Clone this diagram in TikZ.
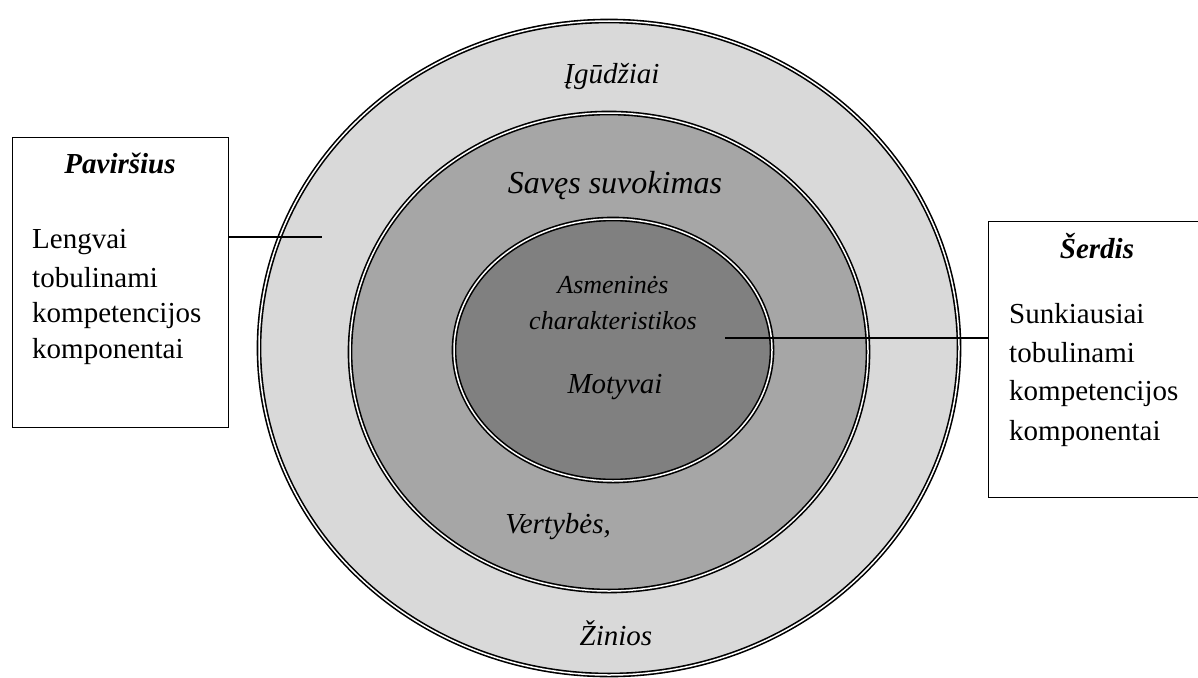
\documentclass[tikz,border=0pt]{standalone}
\usepackage{fontspec}
\setmainfont{Liberation Serif}
\tikzset{
  ring/.style={draw=black, line width=1.6pt, double=white, double distance=1.5pt},
  boxframe/.style={draw=black, line width=1.3pt, inner sep=0pt},
  lbl/.style={anchor=base, inner sep=0pt, font=\fontsize{29}{35}\selectfont\itshape},
  smalllbl/.style={anchor=base, inner sep=0pt, font=\fontsize{26}{31}\selectfont\itshape},
  biglbl/.style={anchor=base, inner sep=0pt, font=\fontsize{32}{38}\selectfont\itshape},
  head/.style={anchor=base, inner sep=0pt, font=\fontsize{29}{35}\selectfont\bfseries\itshape},
  body/.style={anchor=base west, inner sep=0pt, font=\fontsize{29}{35}\selectfont},
  conn/.style={draw=black, line width=1.2pt}
}
\definecolor{outerg}{HTML}{D9D9D9}
\definecolor{midg}{HTML}{A6A6A6}
\definecolor{innerg}{HTML}{808080}
\begin{document}
\begin{tikzpicture}[x=1pt,y=-1pt]
\useasboundingbox (0,0) rectangle (1198,677);
\clip (0,0) rectangle (1198,677);
% rings
\draw[ring, fill=outerg] (609,348) ellipse [x radius=350, y radius=327];
\draw[ring, fill=midg] (609,352) ellipse [x radius=259, y radius=239];
\draw[ring, fill=innerg] (613,350) ellipse [x radius=159, y radius=131];
% ring labels
\node[lbl] (igud) at (612,83) {Įgūdžiai};
\node[biglbl] (saves) at (615,193) {Savęs suvokimas};
\node[smalllbl] (asm) at (613,293) {Asmeninės};
\node[smalllbl] (char) at (613,329) {charakteristikos};
\node[lbl] (motyv) at (615,393) {Motyvai};
\node[lbl] (vert) at (558,533) {Vertybės,};
\node[lbl] (zin) at (616,645) {Žinios};
% left box
\node[boxframe, minimum width=216pt, minimum height=290pt, anchor=north west] (lbox) at (12,137) {};
\node[head] (lhead) at (120,173) {Paviršius};
\node[body] (l1) at (32,248) {Lengvai};
\node[body] (l2) at (32,287) {tobulinami};
\node[body] (l3) at (32,322) {kompetencijos};
\node[body] (l4) at (32,358) {komponentai};
% right box
\node[boxframe, minimum width=230pt, minimum height=276pt, anchor=north west] (rbox) at (988,221) {};
\node[head] (rhead) at (1097,258) {Šerdis};
\node[body] (r1) at (1009,323) {Sunkiausiai};
\node[body] (r2) at (1009,362) {tobulinami};
\node[body] (r3) at (1009,400) {kompetencijos};
\node[body] (r4) at (1009,440) {komponentai};
% connectors
\coordinate (lend) at (322,237);
\coordinate (rend) at (725,338);
\draw[conn] (lbox.east |- lend) -- (lend);
\draw[conn] (rend) -- (rbox.west |- rend);
\end{tikzpicture}
\end{document}
